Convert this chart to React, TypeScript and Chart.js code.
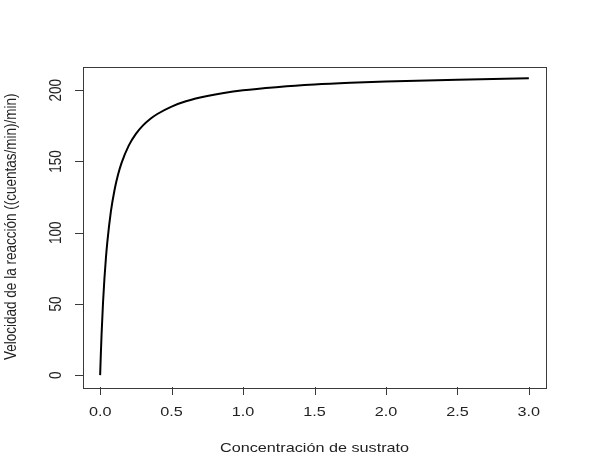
import React, { useEffect, useRef } from "react";
import { Chart, registerables } from "chart.js";

Chart.register(...registerables);

const concentration = [0, 0.005, 0.01, 0.02, 0.03, 0.04, 0.05, 0.075, 0.1, 0.125, 0.15, 0.2, 0.25, 0.3, 0.35, 0.4, 0.5, 0.6, 0.75, 1.0, 1.25, 1.5, 1.75, 2.0, 2.5, 3.0];
const velocity = [0, 15.4, 28.7, 50.6, 67.8, 81.7, 93.2, 114.7, 129.6, 140.6, 149.0, 161.1, 169.3, 175.3, 179.8, 183.3, 188.5, 192.2, 195.9, 199.9, 202.3, 204.0, 205.2, 206.1, 207.4, 208.3];

const xTickValues = [0, 0.5, 1.0, 1.5, 2.0, 2.5, 3.0];
const xTickLabels = ["0.0", "0.5", "1.0", "1.5", "2.0", "2.5", "3.0"];
const yTickValues = [0, 50, 100, 150, 200];
const yTickLabels = ["0", "50", "100", "150", "200"];

const xTitle = "Concentración de sustrato";
const yTitle = "Velocidad de la reacción ((cuentas/min)/min)";

const FONT = '13.5px "Liberation Sans", Arial, sans-serif';
const STRETCH = 1.2;

const rFrame = {
  id: "rFrame",
  afterDraw(chart: any) {
    const ctx = chart.ctx as CanvasRenderingContext2D;
    const a = chart.chartArea;
    const xs = chart.scales.x;
    const ys = chart.scales.y;
    ctx.save();
    ctx.strokeStyle = "#3a3a3a";
    ctx.lineWidth = 1;
    ctx.strokeRect(Math.round(a.left) + 0.5, Math.round(a.top) + 0.5, Math.round(a.right - a.left), Math.round(a.bottom - a.top));
    // x ticks
    ctx.beginPath();
    xTickValues.forEach((v) => {
      const px = Math.round(xs.getPixelForValue(v)) + 0.5;
      ctx.moveTo(px, Math.round(a.bottom));
      ctx.lineTo(px, Math.round(a.bottom) + 8);
    });
    yTickValues.forEach((v) => {
      const py = Math.round(ys.getPixelForValue(v)) + 0.5;
      ctx.moveTo(Math.round(a.left), py);
      ctx.lineTo(Math.round(a.left) - 8, py);
    });
    ctx.stroke();

    ctx.fillStyle = "#222";
    ctx.font = FONT;
    ctx.textAlign = "center";
    ctx.textBaseline = "alphabetic";
    xTickValues.forEach((v, i) => {
      const px = xs.getPixelForValue(v);
      ctx.save();
      ctx.translate(px, 416);
      ctx.scale(STRETCH, 1);
      ctx.fillText(xTickLabels[i], 0, 0);
      ctx.restore();
    });
    yTickValues.forEach((v, i) => {
      const py = ys.getPixelForValue(v);
      ctx.save();
      ctx.translate(61, py);
      ctx.scale(STRETCH, 1);
      ctx.rotate(-Math.PI / 2);
      ctx.fillText(yTickLabels[i], 0, 0);
      ctx.restore();
    });
    // titles
    ctx.save();
    ctx.translate((a.left + a.right) / 2, 452);
    ctx.scale(STRETCH, 1);
    ctx.fillText(xTitle, 0, 0);
    ctx.restore();
    ctx.save();
    ctx.translate(16, (a.top + a.bottom) / 2);
    ctx.scale(STRETCH, 1);
    ctx.rotate(-Math.PI / 2);
    ctx.fillText(yTitle, 0, 0);
    ctx.restore();
    ctx.restore();
  },
};

export default function App() {
  const ref = useRef<HTMLCanvasElement>(null);
  useEffect(() => {
    if (!ref.current) return;
    const chart = new Chart(ref.current, {
      type: "line",
      data: {
        datasets: [
          {
            data: concentration.map((c, i) => ({ x: c, y: velocity[i] })),
            borderColor: "#000",
            borderWidth: 2,
            pointRadius: 0,
            fill: false,
            cubicInterpolationMode: "monotone",
          },
        ],
      },
      options: {
        responsive: false,
        animation: false,
        layout: { padding: { left: 83, top: 66.5, right: 43, bottom: 84 } },
        plugins: { legend: { display: false }, tooltip: { enabled: false } },
        scales: {
          x: { type: "linear", min: -0.12, max: 3.12, display: false },
          y: { type: "linear", min: -8.332, max: 216.63, display: false },
        },
      },
      plugins: [rFrame],
    });
    return () => chart.destroy();
  }, []);
  return (
    <div style={{ position: "fixed", left: 0, top: 0, width: 589, height: 471, background: "#fff" }}>
      <canvas ref={ref} width={589} height={471} />
    </div>
  );
}
